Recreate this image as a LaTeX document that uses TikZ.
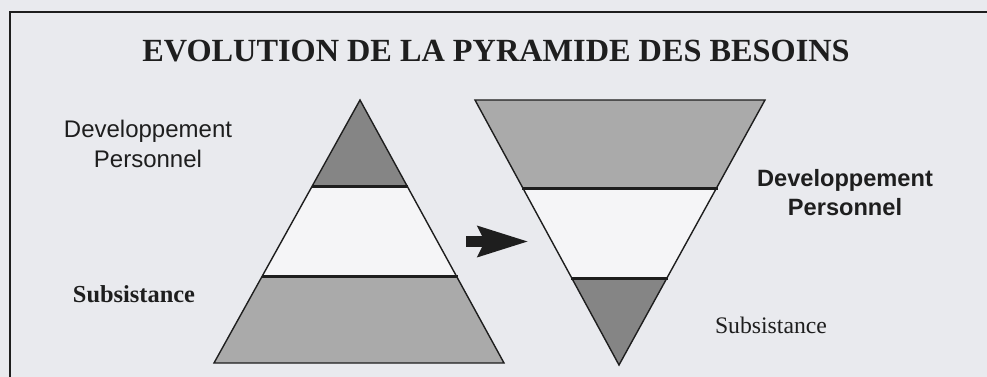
\documentclass[tikz,border=0pt]{standalone}
\usepackage{fontspec}
\setmainfont{Liberation Serif}
\setsansfont{Liberation Sans}
\usetikzlibrary{arrows.meta}
\definecolor{bgc}{HTML}{E9EAEE}
\definecolor{darkg}{HTML}{858585}
\definecolor{lightg}{HTML}{AAAAAA}
\definecolor{midw}{HTML}{F5F5F7}
\definecolor{ink}{HTML}{1E1E1E}
\tikzset{
  seg/.style={draw=ink, line width=1.4pt, line join=miter},
  sep/.style={draw=ink, line width=3pt},
  lbl/.style={inner sep=0pt, anchor=base, align=center, text=ink},
  bigarrow/.style={draw=ink, line width=11pt, -{Stealth[length=50pt,width=29pt,inset=6pt]}}
}
\begin{document}
\begin{tikzpicture}[x=1pt,y=-1pt]
\useasboundingbox (0,0) rectangle (987,377);
\clip (0,0) rectangle (987,377);
\fill[bgc] (0,0) rectangle (987,377);
% frame (open to the right and bottom)
\draw[ink, line width=1.5pt, line cap=butt] (10,377) -- (10,12) -- (987,12);
% title
\node[lbl, font=\bfseries\fontsize{32.3}{36}\selectfont] (title) at (496,62) {EVOLUTION DE LA PYRAMIDE DES BESOINS};
% left pyramid
\fill[darkg] (360,100) -- (313,186) -- (407,186) -- cycle;
\fill[midw] (313,186) -- (407,186) -- (457,276) -- (263,276) -- cycle;
\fill[lightg] (263,276) -- (457,276) -- (504,363) -- (214,363) -- cycle;
\draw[seg] (360,100) -- (504,363) -- (214,363) -- cycle;
\draw[sep] (312,186) -- (408,186);
\draw[sep] (262,276) -- (458,276);
% right pyramid (inverted)
\fill[lightg] (475,100) -- (765,100) -- (717,188) -- (523,188) -- cycle;
\fill[midw] (523,188) -- (717,188) -- (667,278) -- (572,278) -- cycle;
\fill[darkg] (572,278) -- (667,278) -- (619,365) -- cycle;
\draw[seg] (475,100) -- (765,100) -- (619,365) -- cycle;
\draw[sep] (522,188) -- (718,188);
\draw[sep] (571,278) -- (668,278);
% arrow
\coordinate (arrA) at (466,241.5);
\coordinate (arrB) at (529,241.5);
\draw[bigarrow] (arrA) -- (arrB);
% labels (anchor = baseline of last line)
\node[lbl, font=\sffamily\fontsize{24}{29}\selectfont] (devL) at (148,167) {Developpement\\Personnel};
\node[lbl, font=\bfseries\fontsize{24.4}{29}\selectfont] (subL) at (134,302) {Subsistance};
\node[lbl, font=\sffamily\bfseries\fontsize{23.6}{29}\selectfont] (devR) at (845,215) {Developpement\\Personnel};
\node[lbl, font=\fontsize{23.7}{29}\selectfont] (subR) at (771,333) {Subsistance};
\end{tikzpicture}
\end{document}
